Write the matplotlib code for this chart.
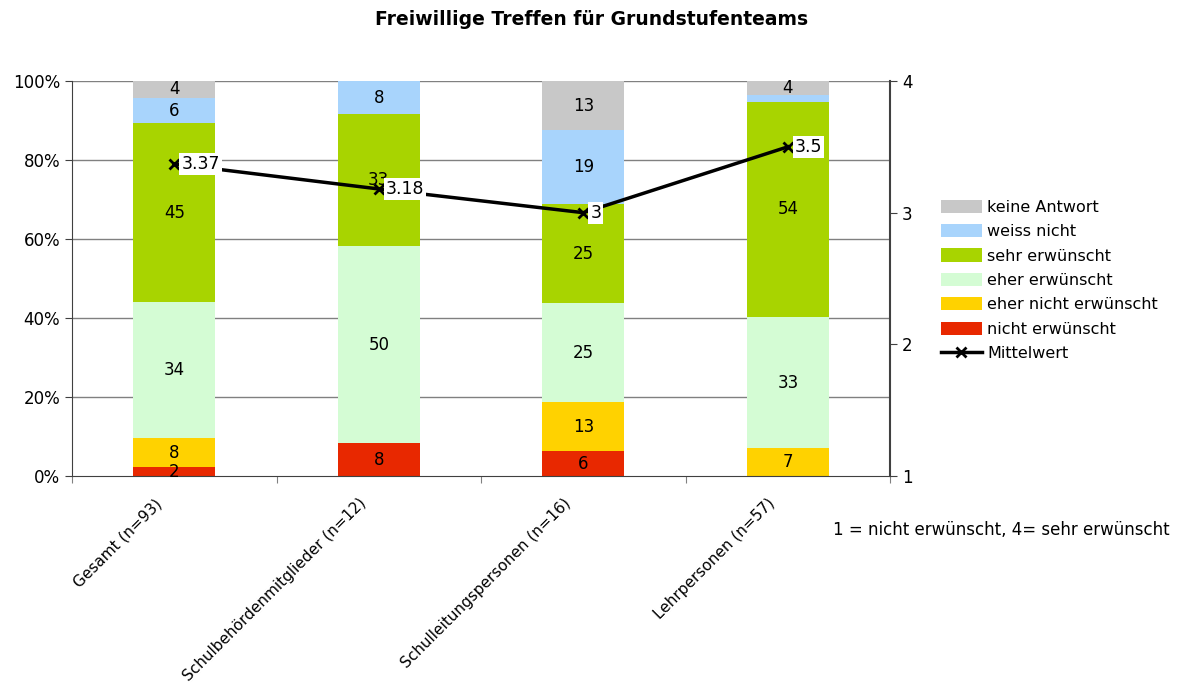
import matplotlib.pyplot as plt
import numpy as np

categories = ['Gesamt (n=93)', 'Schulbehördenmitglieder (n=12)',
              'Schulleitungspersonen (n=16)', 'Lehrpersonen (n=57)']
series = ['nicht erwünscht', 'eher nicht erwünscht', 'eher erwünscht',
          'sehr erwünscht', 'weiss nicht', 'keine Antwort']
nicht = [2.2, 8.3, 6.25, 0]
eher_nicht = [7.5, 0, 12.5, 7.0]
eher = [34.4, 50.0, 25.0, 33.3]
sehr = [45.2, 33.3, 25.0, 54.4]
weiss = [6.45, 8.3, 18.75, 1.75]
keine = [4.3, 0, 12.5, 3.5]
labels_shown = [[True, True, True, True],
                [True, True, True, True],
                [True, True, True, True],
                [True, True, True, True],
                [True, True, True, False],
                [True, True, True, True]]
mittelwert = [3.37, 3.18, 3.0, 3.5]
colors = ['#e82800', '#ffd200', '#d4fcd4', '#a8d400', '#a8d4fc', '#c8c8c8']

plt.rcParams['font.family'] = 'DejaVu Sans'
fig = plt.figure(figsize=(11.84, 6.95), dpi=100)
ax = fig.add_axes([0.0608, 0.315, 0.691, 0.5685])
x = np.arange(len(categories))
values = [nicht, eher_nicht, eher, sehr, weiss, keine]

ax.set_ylim(0, 100)
ax.set_xlim(-0.5, 3.5)
ax.set_yticks(np.arange(0, 101, 20))
ax.set_yticklabels([f'{v}%' for v in range(0, 101, 20)], fontsize=12)
for v in range(20, 101, 20):
    ax.axhline(v, color='#808080', lw=1, zorder=0)

bottom = np.zeros(len(categories))
handles = []
for i, (vals, col, name) in enumerate(zip(values, colors, series)):
    vals = np.array(vals)
    b = ax.bar(x, vals, 0.4, bottom=bottom, color=col, label=name, zorder=2)
    handles.append(b)
    for j in range(len(x)):
        if vals[j] > 0 and labels_shown[i][j]:
            ax.text(x[j], bottom[j] + vals[j] / 2, str(int(vals[j] + 0.5)),
                    ha='center', va='center', fontsize=12, zorder=3)
    bottom += vals

ax.set_xticks(np.arange(-0.5, 4.0, 1.0), minor=False)
ax.set_xticklabels([])
ax.tick_params(axis='x', length=5, color='#808080')
ax.tick_params(axis='y', length=5, color='#404040')
for j, c in enumerate(categories):
    ax.text(x[j] - 0.1, -5, c, rotation=45, ha='right', va='top',
            fontsize=11, rotation_mode='anchor', transform=ax.transData)

for s in ['top', 'right']:
    ax.spines[s].set_visible(False)
ax.spines['left'].set_color('#404040')
ax.spines['bottom'].set_color('#404040')

ax2 = ax.twinx()
ax2.set_ylim(1, 4)
ax2.set_yticks([1, 2, 3, 4])
ax2.set_yticklabels(['1', '2', '3', '4'], fontsize=12)
ax2.tick_params(axis='y', length=5, color='#404040')
for s in ['top', 'left', 'bottom']:
    ax2.spines[s].set_visible(False)
ax2.spines['right'].set_color('#404040')
ax2.spines['right'].set_linewidth(1.5)
line, = ax2.plot(x, mittelwert, color='black', lw=2.5, marker='x',
                 markersize=7, markeredgewidth=2, zorder=4, label='Mittelwert')
for j in range(len(x)):
    ax2.annotate(f'{mittelwert[j]:g}', (x[j], mittelwert[j]),
                 xytext=(5, 0), textcoords='offset points', ha='left',
                 va='center', fontsize=12.5, zorder=5,
                 bbox=dict(facecolor='white', edgecolor='none', pad=1.5))

fig.legend(handles[::-1] + [line], series[::-1] + ['Mittelwert'],
           loc='upper left', bbox_to_anchor=(0.789, 0.722), frameon=False,
           fontsize=11.5, handlelength=2.6, handleheight=0.9,
           labelspacing=0.58, handletextpad=0.3, borderaxespad=0)

fig.text(0.5, 0.972, 'Freiwillige Treffen für Grundstufenteams',
         ha='center', va='center', fontsize=13.5, fontweight='bold')
fig.text(0.988, 0.238, '1 = nicht erwünscht, 4= sehr erwünscht',
         ha='right', va='center', fontsize=12)

fig.savefig('out.png', dpi=100)
